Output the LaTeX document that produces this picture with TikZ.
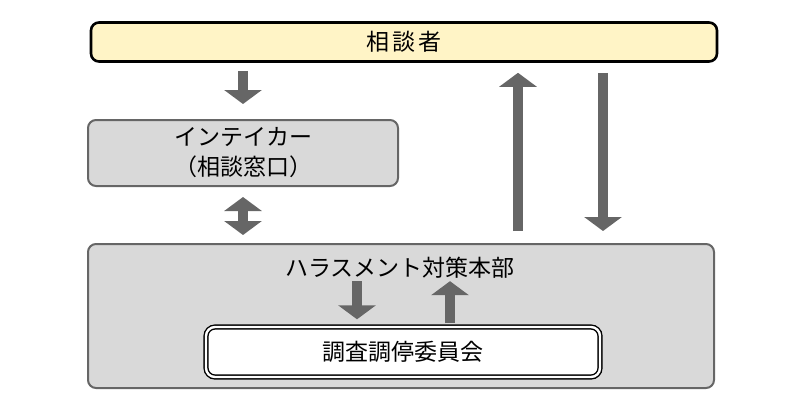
\documentclass[tikz,border=0pt]{standalone}
\usepackage{fontspec}
\newfontfamily\jpfont{Noto Sans CJK JP}
\usetikzlibrary{arrows.meta, positioning, calc}
\definecolor{cream}{HTML}{FFF4C6}
\definecolor{boxgray}{HTML}{D9D9D9}
\definecolor{edgegray}{HTML}{666666}
\definecolor{arrowgray}{HTML}{666666}
\tikzset{
  font=\jpfont\fontsize{23}{30}\selectfont,
  topbox/.style={
    draw=black, fill=cream, line width=2.6pt,
    rounded corners=8pt, minimum width=626pt, minimum height=39pt
  },
  graybox/.style={
    draw=edgegray, fill=boxgray, line width=2pt,
    rounded corners=8pt, align=center
  },
  committee/.style={
    draw=black, double=white, double distance=2.4pt, line width=1.4pt,
    fill=white, rounded corners=9pt, minimum width=394pt, minimum height=50pt
  },
  fat/.style={
    draw=arrowgray, line width=10.5pt,
    -{Triangle[width=37pt,length=14pt]}
  },
  fatboth/.style={
    draw=arrowgray, line width=10.5pt,
    {Triangle[width=37pt,length=14pt]}-{Triangle[width=37pt,length=14pt]}
  }
}
\begin{document}
\begin{tikzpicture}[x=1pt,y=-1pt]
  \useasboundingbox (0,0) rectangle (800,400);
  % boxes
  \node[topbox] (client) at (404,42) {相\hspace{3pt}談\hspace{3pt}者};
  \node[graybox,minimum width=310pt,minimum height=66pt] (intake) at (243,153)
    {インテイカー\\（相談窓口）};
  \node[graybox,minimum width=626pt,minimum height=144pt] (hq) at (401,316) {};
  \node (hqlabel) at (400,268) {ハラスメント対策本部};
  \node[committee] (panel) at (403,352) {調査調停委員会};
  % arrows
  \draw[fat] ([yshift=-8pt]intake.north |- client.south) -- ([yshift=15pt]intake.north);
  \draw[fatboth] ([yshift=-10pt]intake.south) -- ([yshift=8pt]intake.south |- hq.north);
  \draw[fat] ([yshift=12pt]hq.north -| 518,0) -- ([yshift=-10pt]client.south -| 518,0);
  \draw[fat] ([yshift=-10pt]client.south -| 603,0) -- ([yshift=12pt]hq.north -| 603,0);
  \draw[fat] ([yshift=1pt]hqlabel.south -| 357,0) -- ([yshift=7pt]panel.north -| 357,0);
  \draw[fat] ([yshift=3pt]panel.north -| 450,0) -- ([yshift=1pt]hqlabel.south -| 450,0);
\end{tikzpicture}
\end{document}
